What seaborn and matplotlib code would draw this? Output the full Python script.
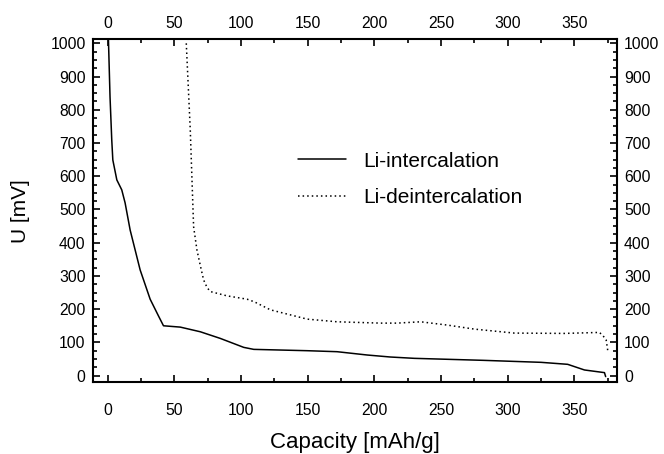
import numpy as np
import pandas as pd
import matplotlib
matplotlib.use("Agg")
import matplotlib.pyplot as plt
from matplotlib.ticker import MultipleLocator
import seaborn as sns

# Li-intercalation (solid) curve
intercal_cap = [0.5, 1.7, 3.0, 3.8, 6.8, 10.5, 13.0, 16.8, 24.3, 31.8, 38.0, 41.8,
                54.4, 69.4, 84.4, 102.0, 109.5, 149.6, 172.0, 194.7, 212.0, 230.0,
                281.7, 325.0, 345.0, 357.6, 372.6, 373.5]
intercal_u = [1013, 839, 709, 649, 589, 559, 520, 438, 318, 230, 180, 150,
              146, 132, 112, 85, 79, 75, 72, 62, 56, 52,
              46, 40, 34, 17, 9, -3]

# Li-deintercalation (dotted) curve
deinter_cap = [58.9, 61.9, 64.4, 66.9, 69.5, 71.9, 74.5, 76.9, 89.5, 104.5, 110.0,
               122.0, 149.6, 172.0, 204.7, 217.0, 234.7, 254.9, 274.9, 305.0,
               342.6, 368.9, 372.6, 373.9, 375.2]
deinter_u = [1000, 739, 448, 378, 330, 288, 265, 253, 240, 230, 222,
             198, 170, 162, 158, 158, 162, 152, 140, 128,
             127, 130, 115, 107, 72]

x_ticks = [0, 50, 100, 150, 200, 250, 300, 350]
y_ticks = [0, 100, 200, 300, 400, 500, 600, 700, 800, 900, 1000]

sns.set_style("ticks")
plt.rcParams["font.family"] = ["Liberation Sans", "DejaVu Sans"]
plt.rcParams["text.color"] = "black"
plt.rcParams["axes.labelcolor"] = "black"

fig, ax = plt.subplots(figsize=(6.64, 4.54), dpi=100)
fig.subplots_adjust(left=0.1396, right=0.9292, top=0.9141, bottom=0.158)

df1 = pd.DataFrame({"cap": intercal_cap, "u": intercal_u})
df2 = pd.DataFrame({"cap": deinter_cap, "u": deinter_u})

sns.lineplot(data=df1, x="cap", y="u", sort=False, ax=ax, color="black",
             linewidth=1.1, label="Li-intercalation")
sns.lineplot(data=df2, x="cap", y="u", sort=False, ax=ax, color="black",
             linewidth=1.1, linestyle=(0, (1, 2)), label="Li-deintercalation")

ax.set_xlim(-11.3, 382)
ax.set_ylim(-20, 1013)
ax.set_xticks(x_ticks)
ax.set_yticks(y_ticks)
ax.xaxis.set_minor_locator(MultipleLocator(25))
ax.yaxis.set_minor_locator(MultipleLocator(25))

ax.tick_params(which="both", direction="in", top=True, right=True,
               labeltop=False, labelright=True, width=1.2, colors="black")
ax.tick_params(which="major", length=5, labelsize=11.3)
ax.tick_params(which="minor", length=3)
ax.tick_params(axis="x", which="major", pad=15)
ax.tick_params(axis="y", which="major", pad=5)

# top axis labels with their own padding
top = ax.secondary_xaxis("top")
top.set_xticks(x_ticks)
top.tick_params(length=0, pad=6, labelsize=11.3, colors="black")
top.spines["top"].set_visible(False)

for sp in ax.spines.values():
    sp.set_linewidth(1.5)
    sp.set_color("black")

ax.set_xlabel("Capacity [mAh/g]", fontsize=16, labelpad=10)
ax.set_ylabel("U [mV]", fontsize=15, labelpad=15)

ax.legend(loc="upper left", bbox_to_anchor=(0.392, 0.672), frameon=False,
          fontsize=15, handlelength=2.3, handletextpad=0.8, labelspacing=0.85,
          borderpad=0, borderaxespad=0)

fig.savefig("out.png", dpi=100)
